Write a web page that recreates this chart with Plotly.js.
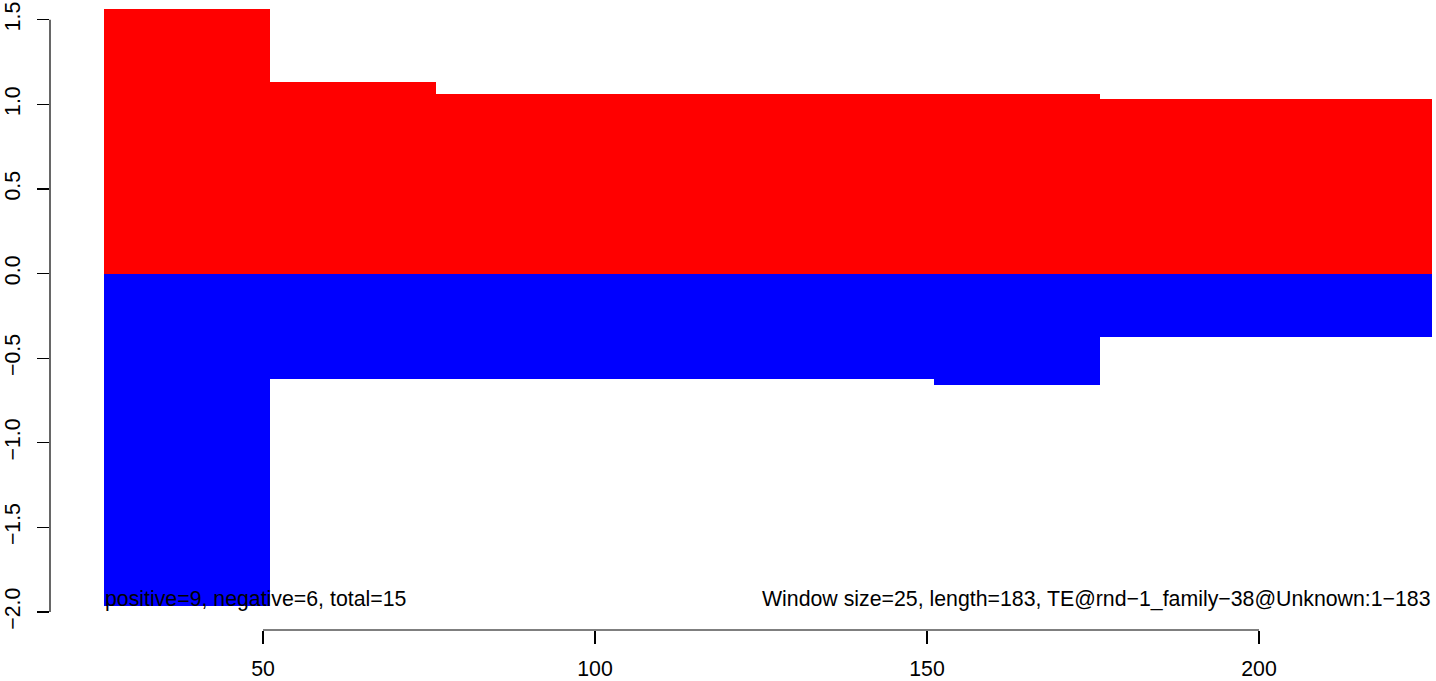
<!DOCTYPE html>
<html>
<head>
<meta charset="utf-8">
<script src="https://cdn.plot.ly/plotly-3.0.1.min.js"></script>
<style>html,body{margin:0;padding:0;background:#fff;}#chart{width:1436px;height:681px;}</style>
</head>
<body>
<div id="chart"></div>
<script>
// Window start positions (window size 25)
const windowStarts = [26, 51, 76, 101, 126, 151, 176, 201];
const windowSize = 25;
// Positive (red) and negative (blue) values per window
const positiveValues = [1.565, 1.129, 1.062, 1.062, 1.062, 1.062, 1.033, 1.033];
const negativeValues = [-1.963, -0.623, -0.623, -0.623, -0.623, -0.658, -0.374, -0.374];
// Texts and ticks
const xTickVals = [50, 100, 150, 200];
const yTickVals = [-2.0, -1.5, -1.0, -0.5, 0.0, 0.5, 1.0, 1.5];
const leftNote = "positive=9, negative=6, total=15";
const rightNote = "Window size=25, length=183, TE@rnd\u22121_family\u221238@Unknown:1\u2212183";

const centers = windowStarts.map(s => s + windowSize / 2);
const widths = windowStarts.map(() => windowSize);
const font = {family: "Liberation Sans, Arial, sans-serif", size: 21.3, color: "#000"};

const traces = [
  {type: "bar", x: centers, y: positiveValues, width: widths, marker: {color: "#FF0000", line: {width: 0}}, hoverinfo: "skip"},
  {type: "bar", x: centers, y: negativeValues, width: widths, marker: {color: "#0000FF", line: {width: 0}}, hoverinfo: "skip"}
];

const layout = {
  width: 1436, height: 681,
  margin: {l: 50, r: 4, t: 5, b: 51, autoexpand: false},
  paper_bgcolor: "#fff", plot_bgcolor: "#fff",
  showlegend: false,
  barmode: "relative",
  bargap: 0,
  font: font,
  xaxis: {
    range: [17.92, 226.05], showgrid: false, zeroline: false, showline: false,
    ticks: "outside", ticklen: 13, tickwidth: 1.2, tickcolor: "#000",
    tickvals: xTickVals, ticktext: xTickVals.map(String), tickfont: font,
    ticklabelstandoff: 6
  },
  yaxis: {
    range: [-2.107, 1.587], showgrid: false, zeroline: false, showline: false,
    ticks: "outside", ticklen: 12, tickwidth: 1.2, tickcolor: "#000",
    tickvals: yTickVals, tickformat: ".1f", tickangle: -90, tickfont: font,
    ticklabelstandoff: 8
  },
  shapes: [
    {type: "line", xref: "x", yref: "paper", x0: xTickVals[0], x1: xTickVals[xTickVals.length - 1], y0: 0, y1: 0, line: {color: "#000", width: 1.2}},
    {type: "line", xref: "paper", yref: "y", x0: 0, x1: 0, y0: yTickVals[0], y1: yTickVals[yTickVals.length - 1], line: {color: "#000", width: 1.2}}
  ],
  annotations: [
    {xref: "x", yref: "y", x: windowStarts[0], y: -1.924, text: leftNote, showarrow: false, xanchor: "left", yanchor: "middle", font: font, borderpad: 0},
    {xref: "x", yref: "y", x: windowStarts[windowStarts.length - 1] + windowSize, y: -1.924, text: rightNote, showarrow: false, xanchor: "right", yanchor: "middle", font: font, borderpad: 0}
  ]
};

Plotly.newPlot("chart", traces, layout, {displayModeBar: false, staticPlot: true});
</script>
</body>
</html>
